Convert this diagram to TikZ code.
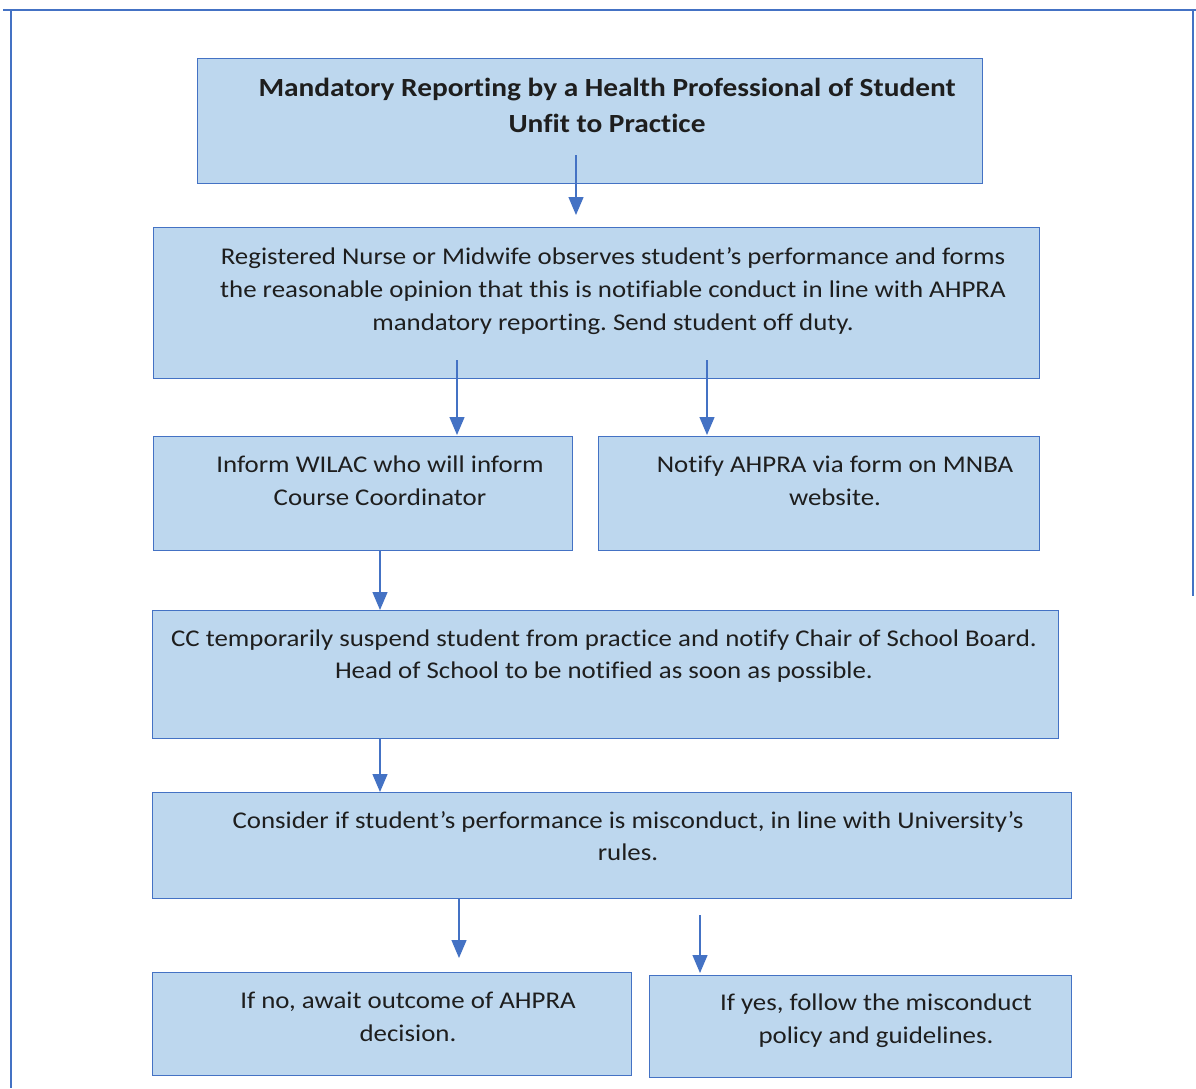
\documentclass[tikz,border=0pt]{standalone}
\usepackage{fontspec}
\setmainfont{Carlito}[FakeStretch=1.12,Ligatures=NoCommon]
\usetikzlibrary{arrows.meta}
\definecolor{BoxBlue}{RGB}{189,215,238}
\definecolor{EdgeBlue}{RGB}{68,114,196}
\definecolor{TextBlack}{RGB}{30,30,30}
\frenchspacing

\begin{document}
\begin{tikzpicture}[x=1pt,y=-1pt,
  box/.style={draw=EdgeBlue,fill=BoxBlue,line width=1.3pt,anchor=north west,inner sep=0pt},
  txt/.style={align=center,text=TextBlack,font=\fontsize{24}{32.7}\selectfont},
  flow/.style={draw=EdgeBlue,line width=1.3pt,-{Triangle[width=15pt,length=18pt]}},
  frame/.style={draw=EdgeBlue,line width=1.3pt},
]
\useasboundingbox (0,0) rectangle (1196,1088);
\draw[frame] (3,10) -- (1196,10);
\draw[frame] (11,10) -- (11,1088);
\draw[frame] (1193,10) -- (1193,596);

\node[box,minimum width=785pt,minimum height=125pt] (title) at (197,58) {};
\node[box,minimum width=886pt,minimum height=151pt] (observe) at (153,227) {};
\node[box,minimum width=419pt,minimum height=114pt] (wilac) at (153,436) {};
\node[box,minimum width=441pt,minimum height=114pt] (ahpra) at (598,436) {};
\node[box,minimum width=906pt,minimum height=128pt] (suspend) at (152,610) {};
\node[box,minimum width=919pt,minimum height=106pt] (consider) at (152,792) {};
\node[box,minimum width=479pt,minimum height=103pt] (ifno) at (152,972) {};
\node[box,minimum width=422pt,minimum height=102pt] (ifyes) at (649,975) {};

\node[txt,font=\fontsize{26.2}{36}\selectfont\bfseries] (titletext) at (607,105)
  {Mandatory Reporting by a Health Professional of Student\\Unfit to Practice};
\node[txt] (observetext) at (613,291)
  {Registered Nurse or Midwife observes student’s performance and forms\\
   the reasonable opinion that this is notifiable conduct in line with AHPRA\\
   mandatory reporting. Send student off duty.};
\node[txt] (wilactext) at (380,481) {Inform WILAC who will inform\\Course Coordinator};
\node[txt] (ahpratext) at (835,481) {Notify AHPRA via form on MNBA\\website.};
\node[txt] (suspendtext) at (604,656)
  {CC temporarily suspend student from practice and notify Chair of School Board.\\
   Head of School to be notified as soon as possible.};
\node[txt] (considertext) at (628,836)
  {Consider if student’s performance is misconduct, in line with University’s\\rules.};
\node[txt] (ifnotext) at (408,1017) {If no, await outcome of AHPRA\\decision.};
\node[txt] (ifyestext) at (876,1021) {If yes, follow the misconduct\\policy and guidelines.};

\coordinate (a1) at (576,155);
\coordinate (a2) at (576,215);
\coordinate (b1) at (457,360);
\coordinate (b2) at (457,435);
\coordinate (c1) at (707,360);
\coordinate (c2) at (707,435);
\coordinate (d) at (380,0);
\coordinate (e1) at (459,898);
\coordinate (e2) at (459,958);
\coordinate (f1) at (700,915);
\coordinate (f2) at (700,973);

\draw[flow] (a1) -- (a2);
\draw[flow] (b1) -- (b2);
\draw[flow] (c1) -- (c2);
\draw[flow] (wilac.south -| d) -- (suspend.north -| d);
\draw[flow] (suspend.south -| d) -- (consider.north -| d);
\draw[flow] (e1) -- (e2);
\draw[flow] (f1) -- (f2);
\end{tikzpicture}
\end{document}
